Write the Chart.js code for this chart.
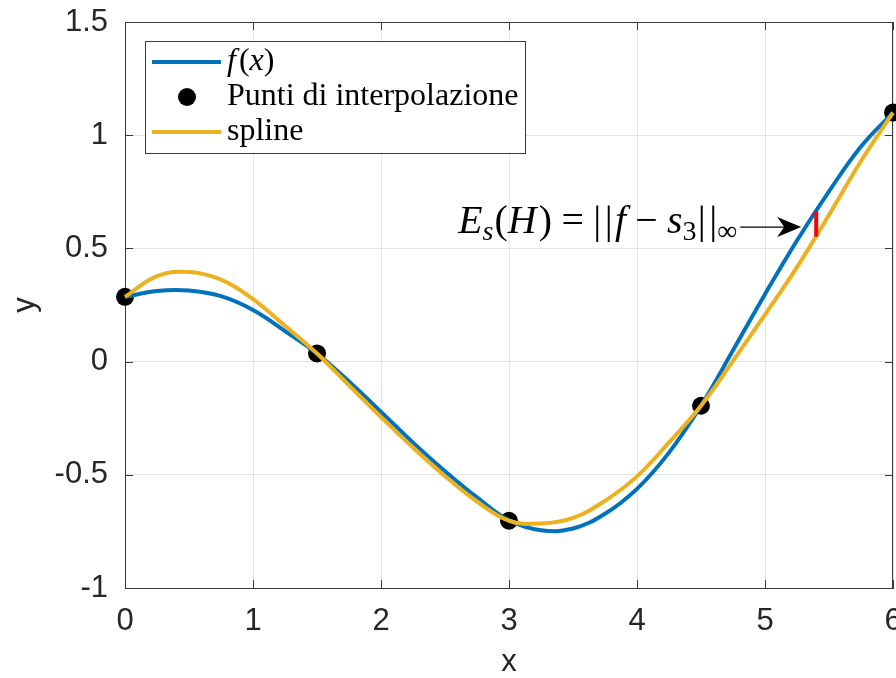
<!DOCTYPE html>
<html><head><meta charset="utf-8">
<script src="https://cdn.jsdelivr.net/npm/chart.js@4.4.1/dist/chart.umd.min.js"></script>
<style>html,body{margin:0;padding:0;background:#fff;}#wrap{width:896px;height:678px;}</style>
</head><body><div id="wrap"><canvas id="c" width="896" height="678"></canvas></div>
<script>
// ---- data ----
const xSamples = [0,0.25,0.5,0.75,1,1.25,1.5,1.75,2,2.25,2.5,2.75,3,3.25,3.5,3.75,4,4.25,4.5,4.75,5,5.25,5.5,5.75,6];
const fValues = [0.286,0.312,0.314,0.289,0.228,0.135,0.036,-0.088,-0.222,-0.358,-0.484,-0.600,-0.701,-0.745,-0.737,-0.672,-0.562,-0.402,-0.195,0.050,0.298,0.535,0.752,0.950,1.10];
const splineValues = [0.286,0.378,0.396,0.362,0.276,0.158,0.036,-0.105,-0.245,-0.380,-0.506,-0.618,-0.703,-0.715,-0.690,-0.615,-0.507,-0.357,-0.195,0.003,0.207,0.417,0.648,0.886,1.10];
const nodeX = [0,1.5,3,4.5,6];
const nodeY = [0.286,0.036,-0.703,-0.195,1.10];
const errorX = [5.4,5.4];
const errorY = [0.552,0.663];
const xTicks = [0,1,2,3,4,5,6];
const xTickLabels = ['0','1','2','3','4','5','6'];
const yTicks = [-1,-0.5,0,0.5,1,1.5];
const yTickLabels = ['-1','-0.5','0','0.5','1','1.5'];
const seriesLabels = ['f(x)','Punti di interpolazione','spline'];
const xTitle = 'x', yTitle = 'y';

const BLUE = '#0072BD', YELLOW = '#EDB120', AX = '#262626';
const SANS = 'Liberation Sans, Arial, sans-serif';
const SERIF = 'Liberation Serif, Times New Roman, serif';
const pts = (xs, ys) => xs.map((x, i) => ({x, y: ys[i]}));

function drawRuns(ctx, runs, x, y, k, measureOnly) {
  let cx = x;
  for (const r of runs) {
    ctx.font = (r.i ? 'italic ' : '') + (r.s * k).toFixed(2) + 'px ' + SERIF;
    if (!measureOnly) ctx.fillText(r.t, cx, y + (r.dy || 0) * k);
    cx += ctx.measureText(r.t).width + (r.gap || 0) * k;
  }
  return cx - x;
}

const framePlugin = {
  id: 'frame',
  beforeDatasetsDraw(chart) {
    const {ctx, chartArea: a, scales: {x, y}} = chart;
    ctx.save();
    ctx.strokeStyle = '#3a3a3a'; ctx.lineWidth = 1;
    ctx.beginPath();
    ctx.moveTo(a.left, a.top + 0.5); ctx.lineTo(a.right, a.top + 0.5);
    ctx.moveTo(a.right - 0.5, a.top); ctx.lineTo(a.right - 0.5, a.bottom);
    const L = 8;
    xTicks.forEach(v => { const px = Math.round(x.getPixelForValue(v)) + 0.5;
      ctx.moveTo(px, a.bottom); ctx.lineTo(px, a.bottom - L);
      ctx.moveTo(px, a.top); ctx.lineTo(px, a.top + L); });
    yTicks.forEach(v => { const py = Math.round(y.getPixelForValue(v)) + 0.5;
      ctx.moveTo(a.left, py); ctx.lineTo(a.left + L, py);
      ctx.moveTo(a.right, py); ctx.lineTo(a.right - L, py); });
    ctx.stroke();
    ctx.restore();
  },
  afterDatasetsDraw(chart) {
    const {ctx, chartArea: a, scales: {x, y}} = chart;
    ctx.save();
    // legend box
    const lx = a.left + 20, ly = a.top + 19, lw = 380, lh = 112;
    ctx.fillStyle = '#fff'; ctx.fillRect(lx, ly, lw, lh);
    ctx.strokeStyle = '#3a3a3a'; ctx.lineWidth = 1;
    ctx.strokeRect(lx + 0.5, ly + 0.5, lw, lh);
    const rows = [ly + 21, ly + 56, ly + 91];
    ctx.textBaseline = 'middle'; ctx.fillStyle = '#000';
    ctx.lineWidth = 4;
    ctx.strokeStyle = BLUE; ctx.beginPath(); ctx.moveTo(lx + 7, rows[0]); ctx.lineTo(lx + 76, rows[0]); ctx.stroke();
    ctx.strokeStyle = YELLOW; ctx.beginPath(); ctx.moveTo(lx + 7, rows[2]); ctx.lineTo(lx + 76, rows[2]); ctx.stroke();
    ctx.beginPath(); ctx.arc(lx + 42, rows[1], 9, 0, Math.PI * 2); ctx.fill();
    const tx = lx + 82;
    drawRuns(ctx, [{t:'f', i:1, s:32, gap:3},{t:'(', s:32},{t:'x', i:1, s:32},{t:')', s:32}], tx, rows[0], 1);
    ctx.font = '32px ' + SERIF; ctx.fillText(seriesLabels[1], tx, rows[1]);
    ctx.fillText(seriesLabels[2], tx, rows[2]);
    // annotation with arrow
    const ex = x.getPixelForValue(errorX[0]);
    const ay = y.getPixelForValue((errorY[0] + errorY[1]) / 2) + 3;
    const tipX = ex - 15, tailX = ex - 76;
    ctx.strokeStyle = '#000'; ctx.lineWidth = 1.2;
    ctx.beginPath(); ctx.moveTo(tailX, ay); ctx.lineTo(tipX - 10, ay); ctx.stroke();
    ctx.beginPath(); ctx.moveTo(tipX, ay); ctx.lineTo(tipX - 24, ay - 10); ctx.lineTo(tipX - 17, ay); ctx.lineTo(tipX - 24, ay + 10); ctx.closePath(); ctx.fill();
    const runs = [
      {t:'E', i:1, s:34},{t:'s', i:1, s:24, dy:6, gap:1},{t:'(', s:34},{t:'H', i:1, s:34, gap:2},{t:')', s:34, gap:8},
      {t:'=', s:34, gap:8},{t:'|', s:34, gap:3},{t:'|', s:34, gap:2},{t:'f', i:1, s:34, gap:8},
      {t:'\u2212', s:34, gap:8},{t:'s', i:1, s:34},{t:'3', s:24, dy:6, gap:1},{t:'|', s:34, gap:3},{t:'|', s:34},{t:'\u221E', s:24, dy:6}
    ];
    ctx.textBaseline = 'alphabetic';
    const w0 = drawRuns(ctx, runs, 0, 0, 1, true);
    const k = 279 / w0;
    const w = drawRuns(ctx, runs, 0, 0, k, true);
    drawRuns(ctx, runs, tailX - 3 - w, ay + 6, k, false);
    ctx.restore();
  }
};

new Chart(document.getElementById('c'), {
  type: 'scatter',
  data: {
    datasets: [
      {label: 'error', data: pts(errorX, errorY), showLine: true, borderColor: '#ff0000', borderWidth: 4, pointRadius: 0, order: 0, clip: false},
      {label: seriesLabels[2], data: pts(xSamples, splineValues), showLine: true, borderColor: YELLOW, borderWidth: 4, pointRadius: 0, tension: 0.4, order: 1, clip: false},
      {label: seriesLabels[0], data: pts(xSamples, fValues), showLine: true, borderColor: BLUE, borderWidth: 4, pointRadius: 0, tension: 0.4, order: 2, clip: false},
      {label: seriesLabels[1], data: pts(nodeX, nodeY), showLine: false, pointRadius: 9, pointBackgroundColor: '#000', pointBorderWidth: 0, order: 3, clip: false}
    ]
  },
  options: {
    responsive: false, animation: false, devicePixelRatio: 1,
    layout: {padding: {top: 22, right: 3, bottom: 0, left: 0}, autoPadding: false},
    plugins: {legend: {display: false}, tooltip: {enabled: false}},
    scales: {
      x: {
        type: 'linear', min: 0, max: 6,
        afterBuildTicks: s => { s.ticks = xTicks.map(v => ({value: v})); },
        afterFit: s => { s.height = 90; s.paddingLeft = 0; s.paddingRight = 0; },
        ticks: {callback: v => xTickLabels[xTicks.indexOf(v)], font: {family: SANS, size: 31, lineHeight: 1.2}, color: AX, padding: 15, maxRotation: 0, autoSkip: false},
        grid: {color: '#e3e3e3', drawTicks: false},
        border: {color: '#3a3a3a', width: 1},
        title: {display: true, text: xTitle, font: {family: SANS, size: 31, lineHeight: 1}, color: AX, padding: {top: 0, bottom: 0}}
      },
      y: {
        type: 'linear', min: -1, max: 1.5,
        afterBuildTicks: s => { s.ticks = yTicks.map(v => ({value: v})); },
        afterFit: s => { s.width = 125; s.paddingTop = 0; s.paddingBottom = 0; },
        ticks: {callback: v => yTickLabels[yTicks.indexOf(v)], font: {family: SANS, size: 31, lineHeight: 1.2}, color: AX, padding: 17, autoSkip: false},
        grid: {color: '#e3e3e3', drawTicks: false},
        border: {color: '#3a3a3a', width: 1},
        title: {display: true, text: yTitle, font: {family: SANS, size: 31, lineHeight: 1}, color: AX, padding: {top: 10, bottom: 0}}
      }
    }
  },
  plugins: [framePlugin]
});
</script></body></html>
